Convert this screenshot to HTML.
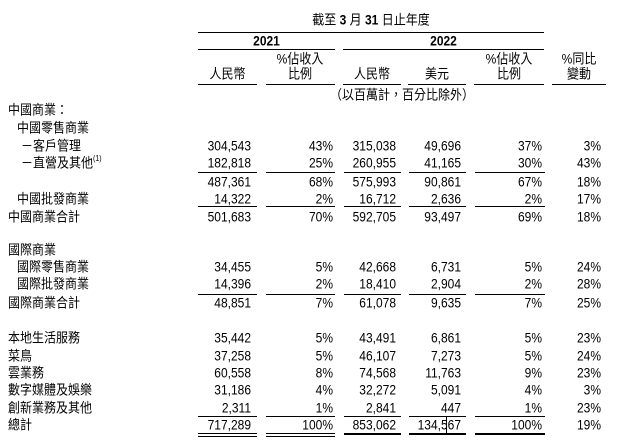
<!DOCTYPE html>
<html><head><meta charset="utf-8">
<style>
html,body{margin:0;padding:0;background:#fff;}
body{width:618px;height:444px;position:relative;overflow:hidden;font-family:"Liberation Sans","Noto Sans CJK TC",sans-serif;font-size:12px;color:#000;}
.t{position:absolute;height:18px;line-height:18px;white-space:nowrap;transform:scaleY(1.12);transform-origin:50% 50%;}
.r{text-align:right;}
.c{text-align:center;}
.l{position:absolute;height:1px;background:#000;}
.k{position:absolute;height:2px;background:#000;}
b{font-weight:bold;}
sup{font-size:7px;vertical-align:top;position:relative;top:-3px;}
</style></head><body>

<!-- header -->
<div class="t c" style="left:198px;width:346px;top:11px;">截至 <b>3</b> 月 <b>31</b> 日止年度</div>
<div class="l" style="left:198px;width:346px;top:32px;"></div>
<div class="t c" style="left:198px;width:137px;top:32px;"><b>2021</b></div>
<div class="t c" style="left:343px;width:201px;top:32px;"><b>2022</b></div>
<div class="l" style="left:198px;width:137px;top:49px;"></div>
<div class="l" style="left:343px;width:201px;top:49px;"></div>

<div class="t c" style="left:265px;width:70px;top:50px;">%佔收入</div>
<div class="t c" style="left:474px;width:70px;top:50px;">%佔收入</div>
<div class="t c" style="left:552px;width:54px;top:50px;">%同比</div>

<div class="t c" style="left:198px;width:59px;top:65px;">人民幣</div>
<div class="t c" style="left:265px;width:70px;top:65px;">比例</div>
<div class="t c" style="left:343px;width:58px;top:65px;">人民幣</div>
<div class="t c" style="left:408px;width:58px;top:65px;">美元</div>
<div class="t c" style="left:474px;width:70px;top:65px;">比例</div>
<div class="t c" style="left:552px;width:54px;top:65px;">變動</div>

<div class="l" style="left:198px;width:59px;top:84px;"></div>
<div class="l" style="left:266px;width:69px;top:84px;"></div>
<div class="l" style="left:343px;width:58px;top:84px;"></div>
<div class="l" style="left:408px;width:58px;top:84px;"></div>
<div class="l" style="left:474px;width:70px;top:84px;"></div>
<div class="l" style="left:552px;width:54px;top:84px;"></div>

<div class="t c" style="left:198px;width:408px;top:86px;">（以百萬計，百分比除外）</div>

<!-- labels -->
<div class="t" style="left:8px;top:101px;">中國商業：</div>
<div class="t" style="left:17px;top:119px;">中國零售商業</div>
<div class="t" style="left:21px;top:137px;">－客戶管理</div>
<div class="t" style="left:21px;top:154px;">－直營及其他<sup>(1)</sup></div>
<div class="t" style="left:17px;top:190px;">中國批發商業</div>
<div class="t" style="left:8px;top:208px;">中國商業合計</div>
<div class="t" style="left:8px;top:241px;">國際商業</div>
<div class="t" style="left:17px;top:258px;">國際零售商業</div>
<div class="t" style="left:17px;top:275px;">國際批發商業</div>
<div class="t" style="left:8px;top:294px;">國際商業合計</div>
<div class="t" style="left:8px;top:329px;">本地生活服務</div>
<div class="t" style="left:8px;top:346.5px;">菜鳥</div>
<div class="t" style="left:8px;top:364px;">雲業務</div>
<div class="t" style="left:8px;top:381px;">數字媒體及娛樂</div>
<div class="t" style="left:8px;top:398.5px;">創新業務及其他</div>
<div class="t" style="left:8px;top:416px;">總計</div>

<!-- row 146 -->
<div class="t r" style="right:367px;top:137px;">304,543</div>
<div class="t r" style="right:285px;top:137px;">43%</div>
<div class="t r" style="right:222px;top:137px;">315,038</div>
<div class="t r" style="right:157px;top:137px;">49,696</div>
<div class="t r" style="right:76px;top:137px;">37%</div>
<div class="t r" style="right:17px;top:137px;">3%</div>
<!-- row 163 -->
<div class="t r" style="right:367px;top:154px;">182,818</div>
<div class="t r" style="right:285px;top:154px;">25%</div>
<div class="t r" style="right:222px;top:154px;">260,955</div>
<div class="t r" style="right:157px;top:154px;">41,165</div>
<div class="t r" style="right:76px;top:154px;">30%</div>
<div class="t r" style="right:17px;top:154px;">43%</div>
<div class="l" style="left:198px;width:59px;top:172px;"></div>
<div class="l" style="left:266px;width:69px;top:172px;"></div>
<div class="l" style="left:344px;width:57px;top:172px;"></div>
<div class="l" style="left:409px;width:57px;top:172px;"></div>
<div class="l" style="left:475px;width:70px;top:172px;"></div>
<!-- row 182 -->
<div class="t r" style="right:367px;top:173px;">487,361</div>
<div class="t r" style="right:285px;top:173px;">68%</div>
<div class="t r" style="right:222px;top:173px;">575,993</div>
<div class="t r" style="right:157px;top:173px;">90,861</div>
<div class="t r" style="right:76px;top:173px;">67%</div>
<div class="t r" style="right:17px;top:173px;">18%</div>
<!-- row 199 -->
<div class="t r" style="right:367px;top:190px;">14,322</div>
<div class="t r" style="right:285px;top:190px;">2%</div>
<div class="t r" style="right:222px;top:190px;">16,712</div>
<div class="t r" style="right:157px;top:190px;">2,636</div>
<div class="t r" style="right:76px;top:190px;">2%</div>
<div class="t r" style="right:17px;top:190px;">17%</div>
<div class="l" style="left:198px;width:59px;top:206px;"></div>
<div class="l" style="left:266px;width:69px;top:206px;"></div>
<div class="l" style="left:344px;width:57px;top:206px;"></div>
<div class="l" style="left:409px;width:57px;top:206px;"></div>
<div class="l" style="left:475px;width:70px;top:206px;"></div>
<!-- row 217 -->
<div class="t r" style="right:367px;top:208px;">501,683</div>
<div class="t r" style="right:285px;top:208px;">70%</div>
<div class="t r" style="right:222px;top:208px;">592,705</div>
<div class="t r" style="right:157px;top:208px;">93,497</div>
<div class="t r" style="right:76px;top:208px;">69%</div>
<div class="t r" style="right:17px;top:208px;">18%</div>

<!-- row 267 -->
<div class="t r" style="right:367px;top:258px;">34,455</div>
<div class="t r" style="right:285px;top:258px;">5%</div>
<div class="t r" style="right:222px;top:258px;">42,668</div>
<div class="t r" style="right:157px;top:258px;">6,731</div>
<div class="t r" style="right:76px;top:258px;">5%</div>
<div class="t r" style="right:17px;top:258px;">24%</div>
<!-- row 284 -->
<div class="t r" style="right:367px;top:275px;">14,396</div>
<div class="t r" style="right:285px;top:275px;">2%</div>
<div class="t r" style="right:222px;top:275px;">18,410</div>
<div class="t r" style="right:157px;top:275px;">2,904</div>
<div class="t r" style="right:76px;top:275px;">2%</div>
<div class="t r" style="right:17px;top:275px;">28%</div>
<div class="l" style="left:198px;width:59px;top:294px;"></div>
<div class="l" style="left:266px;width:69px;top:294px;"></div>
<div class="l" style="left:344px;width:57px;top:294px;"></div>
<div class="l" style="left:409px;width:57px;top:294px;"></div>
<div class="l" style="left:475px;width:70px;top:294px;"></div>
<!-- row 303 -->
<div class="t r" style="right:367px;top:294px;">48,851</div>
<div class="t r" style="right:285px;top:294px;">7%</div>
<div class="t r" style="right:222px;top:294px;">61,078</div>
<div class="t r" style="right:157px;top:294px;">9,635</div>
<div class="t r" style="right:76px;top:294px;">7%</div>
<div class="t r" style="right:17px;top:294px;">25%</div>

<!-- row 338 -->
<div class="t r" style="right:367px;top:329px;">35,442</div>
<div class="t r" style="right:285px;top:329px;">5%</div>
<div class="t r" style="right:222px;top:329px;">43,491</div>
<div class="t r" style="right:157px;top:329px;">6,861</div>
<div class="t r" style="right:76px;top:329px;">5%</div>
<div class="t r" style="right:17px;top:329px;">23%</div>
<!-- row 355.5 -->
<div class="t r" style="right:367px;top:346.5px;">37,258</div>
<div class="t r" style="right:285px;top:346.5px;">5%</div>
<div class="t r" style="right:222px;top:346.5px;">46,107</div>
<div class="t r" style="right:157px;top:346.5px;">7,273</div>
<div class="t r" style="right:76px;top:346.5px;">5%</div>
<div class="t r" style="right:17px;top:346.5px;">24%</div>
<!-- row 373 -->
<div class="t r" style="right:367px;top:364px;">60,558</div>
<div class="t r" style="right:285px;top:364px;">8%</div>
<div class="t r" style="right:222px;top:364px;">74,568</div>
<div class="t r" style="right:157px;top:364px;">11,763</div>
<div class="t r" style="right:76px;top:364px;">9%</div>
<div class="t r" style="right:17px;top:364px;">23%</div>
<!-- row 390 -->
<div class="t r" style="right:367px;top:381px;">31,186</div>
<div class="t r" style="right:285px;top:381px;">4%</div>
<div class="t r" style="right:222px;top:381px;">32,272</div>
<div class="t r" style="right:157px;top:381px;">5,091</div>
<div class="t r" style="right:76px;top:381px;">4%</div>
<div class="t r" style="right:17px;top:381px;">3%</div>
<!-- row 407.5 -->
<div class="t r" style="right:367px;top:398.5px;">2,311</div>
<div class="t r" style="right:285px;top:398.5px;">1%</div>
<div class="t r" style="right:222px;top:398.5px;">2,841</div>
<div class="t r" style="right:157px;top:398.5px;">447</div>
<div class="t r" style="right:76px;top:398.5px;">1%</div>
<div class="t r" style="right:17px;top:398.5px;">23%</div>
<div class="l" style="left:198px;width:59px;top:416px;"></div>
<div class="l" style="left:266px;width:69px;top:416px;"></div>
<div class="l" style="left:344px;width:57px;top:416px;"></div>
<div class="l" style="left:409px;width:57px;top:416px;"></div>
<div class="l" style="left:475px;width:70px;top:416px;"></div>
<!-- row 425 -->
<div class="t r" style="right:367px;top:416px;">717,289</div>
<div class="t r" style="right:285px;top:416px;">100%</div>
<div class="t r" style="right:222px;top:416px;">853,062</div>
<div class="t r" style="right:157px;top:416px;">134,567</div>
<div class="t r" style="right:76px;top:416px;">100%</div>
<div class="t r" style="right:17px;top:416px;">19%</div>
<!-- bottom double / thick lines -->
<div class="l" style="left:198px;width:59px;top:433px;"></div>
<div class="l" style="left:198px;width:59px;top:436px;"></div>
<div class="l" style="left:266px;width:69px;top:433px;"></div>
<div class="l" style="left:266px;width:69px;top:436px;"></div>
<div class="k" style="left:344px;width:57px;top:433px;"></div>
<div class="k" style="left:409px;width:57px;top:433px;"></div>
<div class="k" style="left:475px;width:70px;top:433px;"></div>
<!-- cursor mark -->
<div style="position:absolute;left:446px;top:416px;width:1px;height:19px;background:#000;"></div>

</body></html>
